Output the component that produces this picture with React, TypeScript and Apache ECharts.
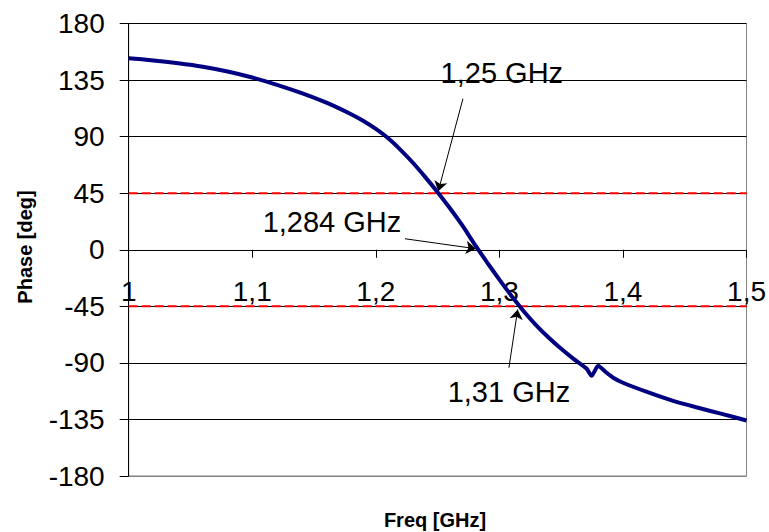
import React, { useEffect, useRef } from "react";
import * as echarts from "echarts";

const freq = [1.0, 1.02, 1.04, 1.06, 1.08, 1.1, 1.12, 1.14, 1.16, 1.18, 1.19, 1.2, 1.21, 1.22, 1.23, 1.24, 1.25, 1.26, 1.27, 1.28, 1.29, 1.3, 1.31, 1.32, 1.33, 1.34, 1.35, 1.36, 1.3705, 1.3746, 1.3799, 1.386, 1.3921, 1.4, 1.42, 1.44, 1.46, 1.48, 1.5];
const phase = [152.4, 150.6, 148.4, 145.6, 141.8, 137.0, 131.2, 124.6, 117.0, 107.8, 102.4, 96.1, 88.7, 79.5, 69.2, 57.8, 45.8, 33.0, 19.3, 4.3, -10.0, -23.8, -37.0, -49.3, -60.3, -70.0, -78.8, -86.8, -94.5, -100.3, -92.3, -97.3, -101.8, -105.8, -113.3, -120.0, -125.5, -130.6, -135.8];

const yTicks = [-180, -135, -90, -45, 0, 45, 90, 135, 180];
const xTicks = [1.0, 1.1, 1.2, 1.3, 1.4, 1.5];
const refLevels = [45, -45];

// annotations: label, label position [freq, phase], arrow start, arrow tip
const annLabels = ["1,25 GHz", "1,284 GHz", "1,31 GHz"];
const annTextPos = [[1.302, 140.9], [1.1645, 22.3], [1.3077, -113]];
const annArrowFrom = [[1.2705, 120.2], [1.2236, 8.75], [1.3077, -93.9]];
const annArrowTo = [[1.2505, 46.5], [1.281, 0.8], [1.3148, -47.5]];

const FONT = "'Liberation Sans', Arial, sans-serif";

export default function App() {
  const ref = useRef<HTMLDivElement>(null);
  useEffect(() => {
    if (!ref.current) return;
    const chart = echarts.init(ref.current, null, { renderer: "svg" });
    const xMin = xTicks[0];
    const xMax = xTicks[xTicks.length - 1];
    const yMin = yTicks[0];
    const yMax = yTicks[yTicks.length - 1];
    const H = 532;
    const gridTop = 23.5;
    const gridBottom = 56;
    const plotH = H - gridTop - gridBottom;
    const zeroOffset = -plotH * (0 - yMin) / (yMax - yMin);
    const splitColors = yTicks.map((v, i) => (i === 0 ? "#808080" : "#000000"));
    chart.setOption({
      animation: false,
      backgroundColor: "#ffffff",
      textStyle: { fontFamily: FONT },
      grid: {
        left: 128.7,
        right: 22.3,
        top: gridTop,
        bottom: gridBottom,
        show: true,
        borderColor: "#808080",
        borderWidth: 1,
        backgroundColor: "transparent",
      },
      xAxis: {
        type: "value",
        position: "bottom",
        offset: zeroOffset,
        min: xMin,
        max: xMax,
        interval: 0.1,
        axisLine: { show: true, onZero: false, lineStyle: { color: "#000", width: 1 } },
        axisTick: { show: true, length: 8, lineStyle: { color: "#000" } },
        splitLine: { show: false },
        axisLabel: {
          show: true,
          fontSize: 28,
          color: "#000",
          fontFamily: FONT,
          margin: 28,
          hideOverlap: false,
          formatter: (v: number) => String(Math.round(v * 10) / 10).replace(".", ","),
        },
      },
      yAxis: {
        type: "value",
        min: yMin,
        max: yMax,
        interval: 45,
        axisLine: { show: true, onZero: false, lineStyle: { color: "#000", width: 1 } },
        axisTick: { show: true, length: 9, lineStyle: { color: "#000" } },
        splitLine: { show: true, lineStyle: { color: splitColors, width: 1 } },
        axisLabel: { fontSize: 28, color: "#000", fontFamily: FONT, margin: 24 },
      },
      series: [
        ...refLevels.map((lvl) => ({
          type: "line",
          data: [[xMin, lvl], [xMax, lvl]],
          symbol: "none",
          silent: true,
          z: 3,
          lineStyle: { color: "#ff0000", width: 2, type: [9, 4] },
        })),
        {
          type: "line",
          data: freq.map((f, i) => [f, phase[i]]),
          symbol: "none",
          smooth: 0.2,
          z: 5,
          lineStyle: { color: "#000080", width: 4 },
          markLine: {
            silent: true,
            symbol: ["none", "arrow"],
            symbolSize: 10,
            label: { show: false },
            lineStyle: { color: "#000", width: 1, type: "solid" },
            data: annArrowFrom.map((p, i) => [
              { coord: p },
              { coord: annArrowTo[i] },
            ]),
          },
          markPoint: {
            silent: true,
            symbol: "circle",
            symbolSize: 1,
            itemStyle: { color: "rgba(0,0,0,0)" },
            label: {
              show: true,
              position: "inside",
              fontSize: 29,
              color: "#000",
              fontFamily: FONT,
              formatter: (p: any) => p.name,
            },
            data: annLabels.map((t, i) => ({ name: t, coord: annTextPos[i] })),
          },
        },
      ],
      graphic: [
        {
          type: "text",
          x: 25,
          y: 247,
          rotation: Math.PI / 2,
          style: {
            text: "Phase [deg]",
            fontSize: 20,
            fontWeight: "bold",
            fontFamily: FONT,
            fill: "#000",
            align: "center",
            verticalAlign: "middle",
          },
        },
        {
          type: "text",
          x: 435,
          y: 520,
          style: {
            text: "Freq [GHz]",
            fontSize: 20,
            fontWeight: "bold",
            fontFamily: FONT,
            fill: "#000",
            align: "center",
            verticalAlign: "middle",
          },
        },
      ],
    });
    return () => chart.dispose();
  }, []);
  return (
    <div
      ref={ref}
      style={{ position: "fixed", left: 0, top: 0, width: 769, height: 532, background: "#fff" }}
    />
  );
}
